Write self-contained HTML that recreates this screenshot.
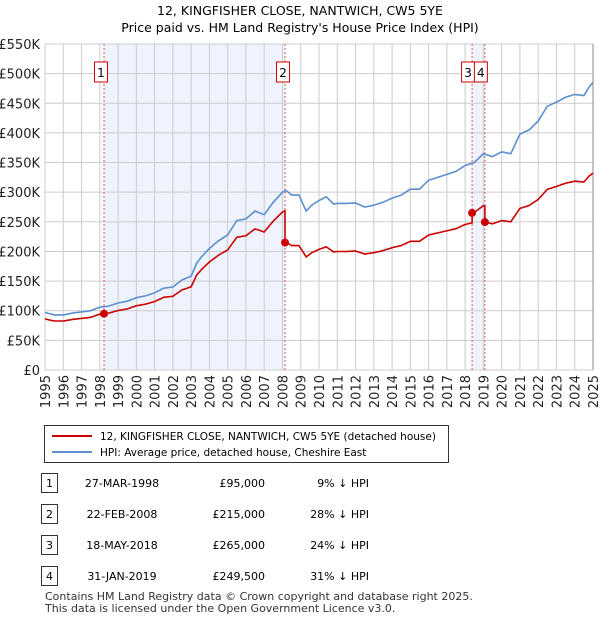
<!DOCTYPE html>
<html><head><meta charset="utf-8"><style>
body{margin:0;background:#fff;font-family:"Liberation Sans","DejaVu Sans",sans-serif;}
svg text{font-family:"DejaVu Sans","Liberation Sans",sans-serif;}
</style></head><body>
<svg id="c" width="600" height="620" xmlns="http://www.w3.org/2000/svg"></svg>
<script>
const hpiYears=[1995,1995.5,1996,1996.5,1997,1997.5,1998,1998.5,1999,1999.5,2000,2000.5,2001,2001.5,2002,2002.5,2003,2003.3,2003.6,2004,2004.5,2005,2005.5,2006,2006.5,2007,2007.5,2008,2008.2,2008.5,2008.9,2009.3,2009.6,2010,2010.4,2010.8,2011,2011.5,2012,2012.5,2013,2013.5,2014,2014.5,2015,2015.5,2016,2016.5,2017,2017.5,2018,2018.5,2019,2019.5,2020,2020.5,2021,2021.5,2022,2022.5,2023,2023.5,2024,2024.5,2024.8,2025];
const hpiValues=[97,93,93,96,98,100,106,108,113,116,122,125,130,138,140,152,158,180,192,205,218,228,252,255,268,262,283,300,303,295,295,268,278,286,292,280,281,281,282,275,278,283,290,295,305,305,320,325,330,335,345,350,365,360,368,365,398,405,420,445,452,460,465,463,478,485];
const saleLabels=["1","2","3","4"];
const saleDates=[1998.23,2008.14,2018.38,2019.08];
const salePrices=[95000,215000,265000,249500];
const saleDateText=["27-MAR-1998","22-FEB-2008","18-MAY-2018","31-JAN-2019"];
const salePriceText=["£95,000","£215,000","£265,000","£249,500"];
const saleHpiText=["9% ↓ HPI","28% ↓ HPI","24% ↓ HPI","31% ↓ HPI"];
const yTicks=[0,50000,100000,150000,200000,250000,300000,350000,400000,450000,500000,550000];
const yTickLabels=["£0","£50K","£100K","£150K","£200K","£250K","£300K","£350K","£400K","£450K","£500K","£550K"];
const xYears=[1995,1996,1997,1998,1999,2000,2001,2002,2003,2004,2005,2006,2007,2008,2009,2010,2011,2012,2013,2014,2015,2016,2017,2018,2019,2020,2021,2022,2023,2024,2025];

const svg=document.getElementById('c');const NS='http://www.w3.org/2000/svg';
const X0=45,X1=593,Y0=370,Y1=44;
const xs=y=>X0+(y-1995)/30*(X1-X0);
const ys=v=>Y0-v/550000*(Y0-Y1);
function mk(t,a,p){const e=document.createElementNS(NS,t);for(const k in a)e.setAttribute(k,a[k]);(p||svg).appendChild(e);return e;}
function hpiAt(t){for(let i=0;i<hpiYears.length-1;i++){if(t<=hpiYears[i+1]){const f=(t-hpiYears[i])/(hpiYears[i+1]-hpiYears[i]);return (hpiValues[i]+f*(hpiValues[i+1]-hpiValues[i]))*1000;}}return hpiValues[hpiValues.length-1]*1000;}

let t;
t=mk('text',{x:300,y:15,'text-anchor':'middle','font-size':12.5});t.textContent='12, KINGFISHER CLOSE, NANTWICH, CW5 5YE';

t=mk('text',{x:300,y:32,'text-anchor':'middle','font-size':12.5});t.textContent="Price paid vs. HM Land Registry's House Price Index (HPI)";


let r=mk('rect',{x:xs(saleDates[0]),y:Y1,width:xs(saleDates[1])-xs(saleDates[0]),height:Y0-Y1,fill:'#eef3fd'});

r=mk('rect',{x:xs(saleDates[2]),y:Y1,width:xs(saleDates[3])-xs(saleDates[2]),height:Y0-Y1,fill:'#eef3fd'});

yTicks.forEach((v,i)=>{const l=mk('line',{x1:X0,x2:X1,y1:ys(v),y2:ys(v),stroke:'#cccccc'});

const tx=mk('text',{x:40,y:ys(v)+5,'text-anchor':'end','font-size':13,fill:'#222'});tx.textContent=yTickLabels[i];
});
xYears.forEach(y=>{const l=mk('line',{x1:xs(y),x2:xs(y),y1:Y1,y2:Y0,stroke:'#cccccc'});

const tx=mk('text',{x:0,y:0,'text-anchor':'end','font-size':13,fill:'#222',transform:`translate(${xs(y)+5},375) rotate(-90)`});tx.textContent=y;
});
let ax=mk('line',{x1:X1,x2:X1,y1:Y1,y2:Y0,stroke:'#888'});

saleDates.forEach((d,i)=>{const l=mk('line',{x1:xs(d),x2:xs(d),y1:Y1,y2:Y0,stroke:'#e05555','stroke-dasharray':'2,2'});
});
let pts=hpiYears.map((y,i)=>xs(y).toFixed(1)+','+ys(hpiValues[i]*1000).toFixed(1)).join(' ');
let p=mk('polyline',{points:pts,fill:'none',stroke:'#5b8fd0','stroke-width':1.6});

let rp=[];let ratio=salePrices[0]/hpiAt(saleDates[0]);
for(let tt=1995;tt<=2025.0001;tt+=0.05){
 for(let k=0;k<saleDates.length;k++){if(tt-0.05<saleDates[k]&&tt>=saleDates[k]){const before=hpiAt(saleDates[k])*ratio;if(k>0)rp.push([xs(saleDates[k]),ys(before)]);ratio=salePrices[k]/hpiAt(saleDates[k]);rp.push([xs(saleDates[k]),ys(salePrices[k])]);}}
 rp.push([xs(tt),ys(hpiAt(tt)*ratio)]);}
p=mk('polyline',{points:rp.map(a=>a[0].toFixed(1)+','+a[1].toFixed(1)).join(' '),fill:'none',stroke:'#cc0000','stroke-width':1.6});

const boxOff=[-3,-2,-4,-4];
saleDates.forEach((d,i)=>{const c=mk('circle',{cx:xs(d),cy:ys(salePrices[i]),r:4,fill:'#cc0000'});

const off=boxOff[i];const g=mk('g',{});

mk('rect',{x:xs(d)+off-6.5,y:62,width:13,height:20,fill:'#fff',stroke:'#cc0000'},g);
const tx=mk('text',{x:xs(d)+off,y:77,'text-anchor':'middle','font-size':12},g);tx.textContent=saleLabels[i];});
let lg=mk('g',{});
mk('rect',{x:44.5,y:425.5,width:404,height:37,fill:'#fff',stroke:'#333'},lg);
mk('line',{x1:52,x2:92,y1:436,y2:436,stroke:'#cc0000','stroke-width':2},lg);
mk('line',{x1:52,x2:92,y1:452,y2:452,stroke:'#5b8fd0','stroke-width':2},lg);
t=mk('text',{x:100,y:440,'font-size':10.5},lg);t.textContent='12, KINGFISHER CLOSE, NANTWICH, CW5 5YE (detached house)';

t=mk('text',{x:100,y:456,'font-size':10.5},lg);t.textContent='HPI: Average price, detached house, Cheshire East';

saleDates.forEach((d,i)=>{const y=483+i*31;const g=mk('g',{});

mk('rect',{x:41.5,y:y-9.5,width:16,height:19,fill:'#fff',stroke:'#333'},g);
let a=mk('text',{x:49.5,y:y+4,'text-anchor':'middle','font-size':11},g);a.textContent=saleLabels[i];
a=mk('text',{x:122,y:y+4,'text-anchor':'middle','font-size':11},g);a.textContent=saleDateText[i];
a=mk('text',{x:265,y:y+4,'text-anchor':'end','font-size':11},g);a.textContent=salePriceText[i];
a=mk('text',{x:369,y:y+4,'text-anchor':'end','font-size':11},g);a.textContent=saleHpiText[i];});
t=mk('text',{x:45,y:600,'font-size':11,fill:'#333'});t.textContent='Contains HM Land Registry data © Crown copyright and database right 2025.';

t=mk('text',{x:45,y:612,'font-size':11,fill:'#333'});t.textContent='This data is licensed under the Open Government Licence v3.0.';

</script>
</body></html>
